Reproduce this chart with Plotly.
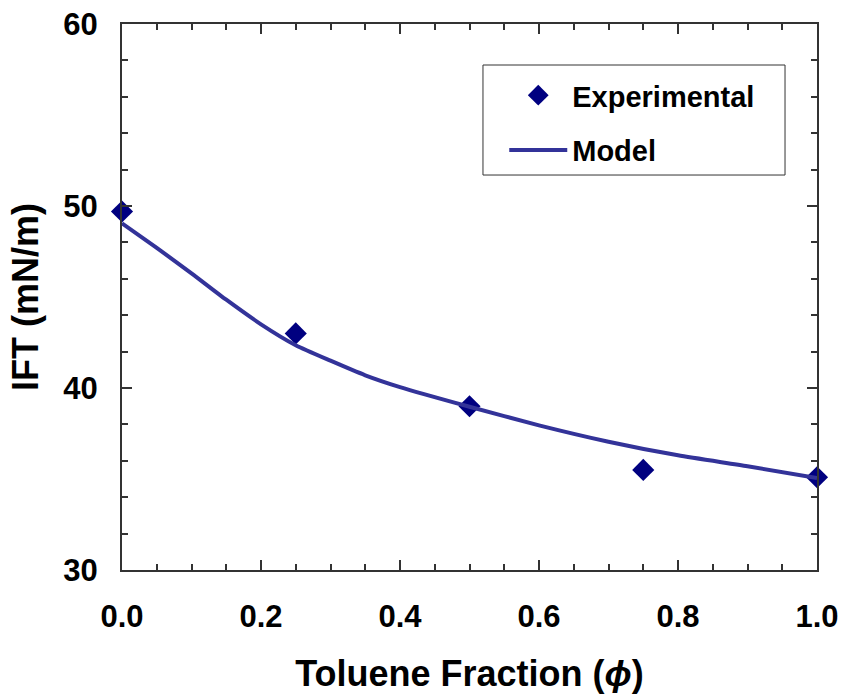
import plotly.graph_objects as go

# Measured interfacial tension vs toluene fraction
exp_phi = [0.0, 0.25, 0.5, 0.75, 1.0]
exp_ift = [49.7, 43.0, 39.0, 35.5, 35.1]

# Model prediction
model_phi = [0.0, 0.05, 0.1, 0.15, 0.2, 0.25, 0.3, 0.35, 0.4, 0.5, 0.6, 0.7, 0.8, 0.9, 1.0]
model_ift = [49.05, 47.7, 46.3, 44.85, 43.5, 42.35, 41.5, 40.7, 40.05, 38.97, 37.95, 37.05, 36.3, 35.7, 35.05]

x_ticks = [0.0, 0.2, 0.4, 0.6, 0.8, 1.0]
x_tick_text = ["0.0", "0.2", "0.4", "0.6", "0.8", "1.0"]
y_ticks = [30, 40, 50, 60]

font_family = "Liberation Sans, Arial, sans-serif"
axis_color = "#333333"

fig = go.Figure()
fig.add_trace(go.Scatter(
    x=exp_phi, y=exp_ift, mode="markers", name="Experimental",
    legendgroup="exp",
    marker=dict(symbol="diamond", size=17, color="#000080"),
    cliponaxis=False,
))
fig.add_trace(go.Scatter(
    x=model_phi, y=model_ift, mode="lines", name="Model",
    legendgroup="model",
    line=dict(color="#333399", width=4, shape="spline", smoothing=0.6),
    cliponaxis=False,
))

axis_common = dict(
    showline=True, linecolor=axis_color, linewidth=2, mirror="ticks",
    ticks="inside", ticklen=10, tickwidth=1.5, tickcolor=axis_color,
    showgrid=False, zeroline=False, automargin=False,
    tickfont=dict(family=font_family, size=31, color="black", weight="bold"),
)

fig.update_xaxes(
    range=[0, 1], tickvals=x_ticks, ticktext=x_tick_text,
    minor=dict(dtick=0.05, ticks="inside", ticklen=6, tickwidth=1.5, tickcolor=axis_color),
    ticklabelstandoff=18,
    title=dict(text="Toluene Fraction (<i>ϕ</i>)", standoff=28,
               font=dict(family=font_family, size=36, color="black", weight="bold")),
    **axis_common,
)
fig.update_yaxes(
    range=[30, 60], tickvals=y_ticks,
    minor=dict(dtick=2, ticks="inside", ticklen=6, tickwidth=1.5, tickcolor=axis_color),
    ticklabelstandoff=16,
    title=dict(text="IFT (mN/m)", standoff=14,
               font=dict(family=font_family, size=36, color="black", weight="bold")),
    **axis_common,
)

# Legend frame
fig.add_shape(
    type="rect", xref="paper", yref="paper",
    x0=0.5194, x1=0.954, y0=0.7234, y1=0.9249,
    line=dict(color=axis_color, width=1), fillcolor="white", layer="below",
)

fig.update_layout(
    width=843, height=696,
    margin=dict(l=122, r=26, t=24, b=126),
    plot_bgcolor="white", paper_bgcolor="white",
    showlegend=True,
    legend=dict(
        x=0.55, y=0.916, xanchor="left", yanchor="top",
        bgcolor="rgba(0,0,0,0)", borderwidth=0,
        font=dict(family=font_family, size=29, color="black", weight="bold"),
        itemwidth=58, tracegroupgap=14,
    ),
)

fig.write_html("out.html")
